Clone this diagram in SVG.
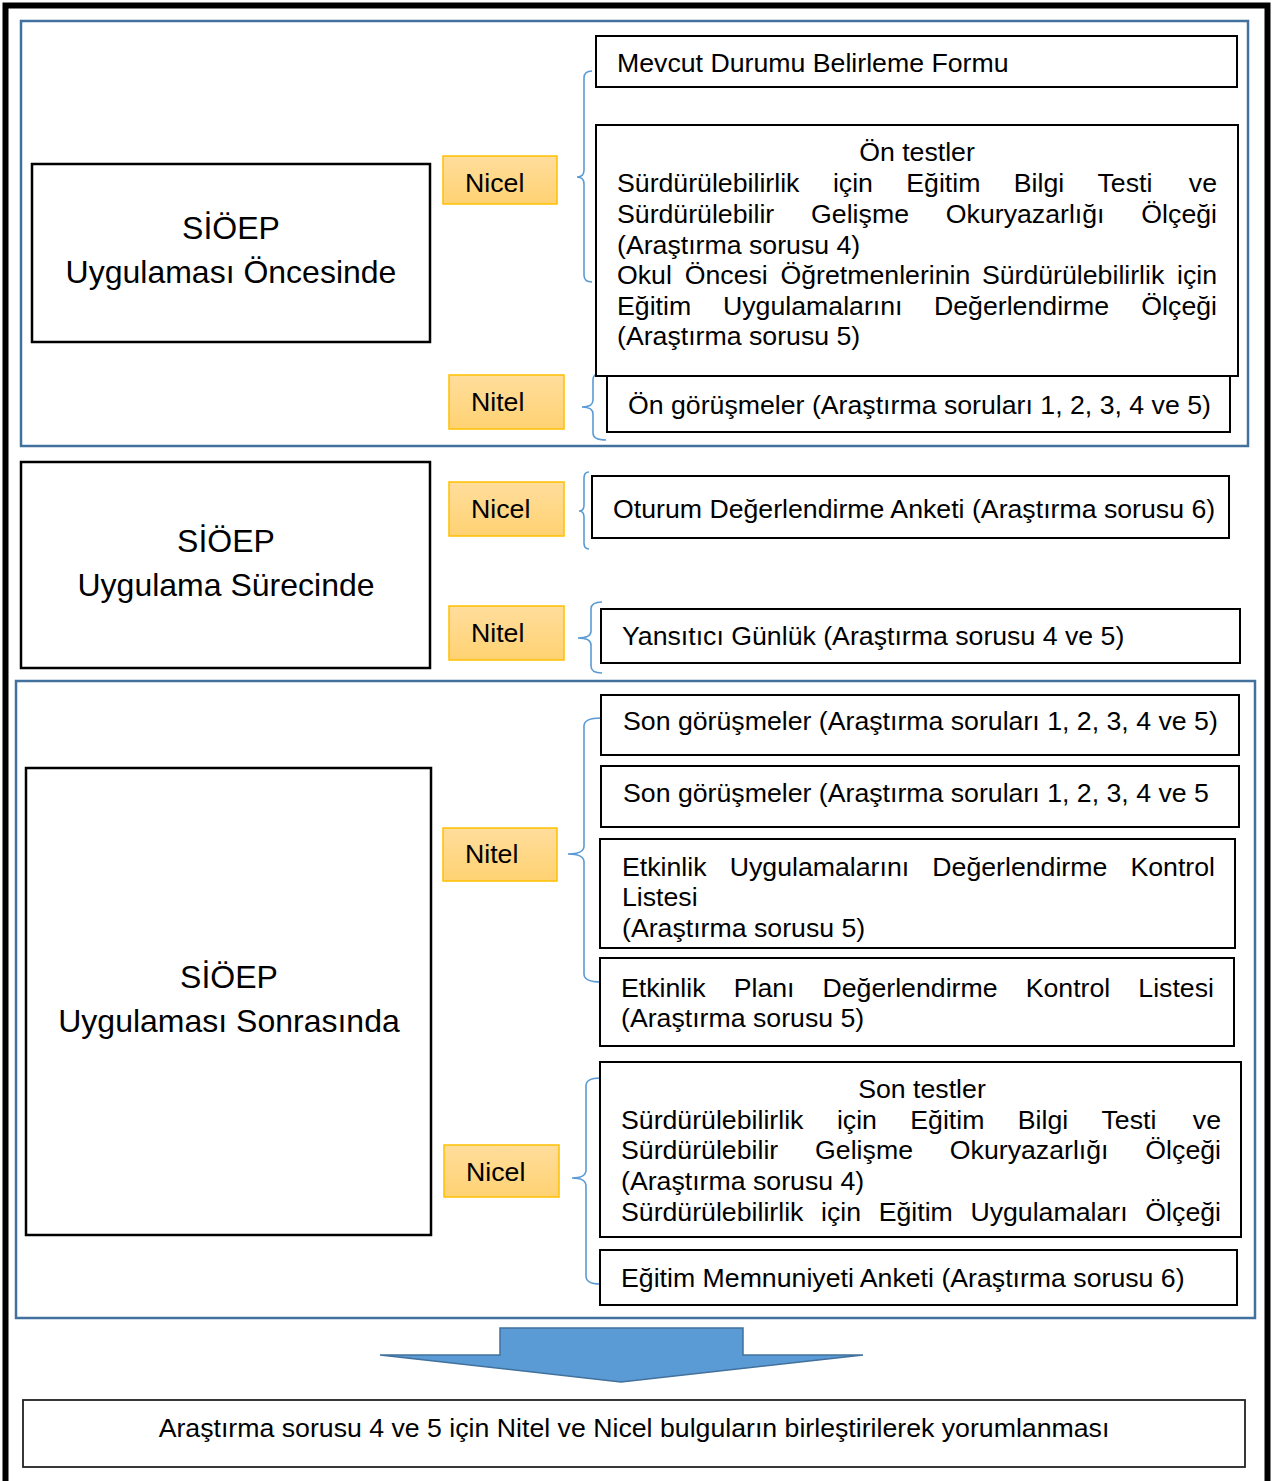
<svg xmlns="http://www.w3.org/2000/svg" width="1278" height="1481" viewBox="0 0 1278 1481">
<style>
.t{font-family:"Liberation Sans",Arial,sans-serif;font-size:26.7px;fill:#000}
.big{font-family:"Liberation Sans",Arial,sans-serif;font-size:32px;fill:#000;text-anchor:middle}
.panel{fill:none;stroke:#41719C;stroke-width:2.5}
.lbox{fill:#fff;stroke:#000;stroke-width:2.5}
.rbox{fill:#fff;stroke:#000;stroke-width:2}
.tag{fill:url(#og);stroke:#FFC000;stroke-width:1.5}
.br{fill:none;stroke:#5B9BD5;stroke-width:1.6}
.e{text-anchor:end}
.m{text-anchor:middle}
</style>
<defs>
<linearGradient id="og" x1="0" y1="0" x2="0" y2="1">
<stop offset="0" stop-color="#FFDD9C"/>
<stop offset="1" stop-color="#FFD272"/>
</linearGradient>
</defs>
<rect x="0" y="0" width="1278" height="1481" fill="#fff"/>
<rect x="5.5" y="5.5" width="1262" height="1500" fill="none" stroke="#000" stroke-width="6"/>

<g id="panel-oncesi"><rect class="panel" x="21" y="21" width="1227" height="425"/></g>
<g id="panel-sonrasi"><rect class="panel" x="16" y="681" width="1239" height="637"/></g>

<g id="connectors">
<path class="br" d="M592,71 Q584,71 584,78 L584,170 Q584,177 577,177 Q584,177 584,184 L584,275 Q584,282 592,282"/>
<path class="br" d="M606,372 Q593,372 593,380 L593,400 Q593,407 582,407 Q593,407 593,414 L593,433 Q593,440 606,440"/>
<path class="br" d="M589,472 Q584,472 584,478 L584,505 Q584,511 579,511 Q584,511 584,517 L584,543 Q584,549 589,549"/>
<path class="br" d="M602,602 Q591,602 591,609 L591,631 Q591,638 578,638 Q591,638 591,645 L591,666 Q591,673 602,673"/>
<path class="br" d="M601,718 Q584,718 584,726 L584,846 Q584,854 568,854 Q584,854 584,862 L584,974 Q584,982 601,982"/>
<path class="br" d="M600,1078 Q586,1078 586,1086 L586,1170 Q586,1178 572,1178 Q586,1178 586,1186 L586,1276 Q586,1284 600,1284"/>
</g>

<g id="node-oncesi"><rect class="lbox" x="32" y="164" width="398" height="178"/>
<text class="big" x="231" y="239">SİÖEP</text><text class="big" x="231" y="283">Uygulaması Öncesinde</text></g>
<g id="node-surecinde"><rect class="lbox" x="21" y="462" width="409" height="206"/>
<text class="big" x="226" y="552">SİÖEP</text><text class="big" x="226" y="596">Uygulama Sürecinde</text></g>
<g id="node-sonrasi"><rect class="lbox" x="26" y="768" width="405" height="467"/>
<text class="big" x="229" y="988">SİÖEP</text><text class="big" x="229" y="1032">Uygulaması Sonrasında</text></g>

<g id="tag-nicel-1"><rect class="tag" x="443" y="156" width="114" height="48"/><text class="t" x="465" y="192">Nicel</text></g>
<g id="tag-nitel-1"><rect class="tag" x="449" y="375" width="115" height="54"/><text class="t" x="471" y="411">Nitel</text></g>
<g id="tag-nicel-2"><rect class="tag" x="449" y="482" width="115" height="54"/><text class="t" x="471" y="518">Nicel</text></g>
<g id="tag-nitel-2"><rect class="tag" x="449" y="606" width="115" height="54"/><text class="t" x="471" y="642">Nitel</text></g>
<g id="tag-nitel-3"><rect class="tag" x="443" y="828" width="114" height="53"/><text class="t" x="465" y="863">Nitel</text></g>
<g id="tag-nicel-3"><rect class="tag" x="444" y="1145" width="115" height="52"/><text class="t" x="466" y="1181">Nicel</text></g>

<g id="node-mevcut"><rect class="rbox" x="596" y="36" width="641" height="51"/><text class="t" x="617" y="72">Mevcut Durumu Belirleme Formu</text></g>

<g id="node-on-testler"><rect class="rbox" x="596" y="125" width="642" height="251"/>
<text class="t m" x="917" y="161">Ön testler</text>
<text class="t" y="192"><tspan x="617">Sürdürülebilirlik</tspan><tspan x="832.9">için</tspan><tspan x="906.3">Eğitim</tspan><tspan x="1013.8">Bilgi</tspan><tspan x="1097.5">Testi</tspan></text><text class="t e" x="1217" y="192">ve</text>
<text class="t" y="223"><tspan x="617">Sürdürülebilir</tspan><tspan x="811.1">Gelişme</tspan><tspan x="945.8">Okuryazarlığı</tspan></text><text class="t e" x="1217" y="223">Ölçeği</text>
<text class="t" x="617" y="254">(Araştırma sorusu 4)</text>
<text class="t" y="284"><tspan x="617">Okul</tspan><tspan x="684.7">Öncesi</tspan><tspan x="780.5">Öğretmenlerinin</tspan><tspan x="981.9">Sürdürülebilirlik</tspan></text><text class="t e" x="1217" y="284">için</text>
<text class="t" y="315"><tspan x="617">Eğitim</tspan><tspan x="723">Uygulamalarını</tspan><tspan x="934">Değerlendirme</tspan></text><text class="t e" x="1217" y="315">Ölçeği</text>
<text class="t" x="617" y="345">(Araştırma sorusu 5)</text>
</g>

<g id="node-on-gorusmeler"><rect class="rbox" x="607" y="376" width="623" height="56"/><text class="t" x="628" y="414">Ön görüşmeler (Araştırma soruları 1, 2, 3, 4 ve 5)</text></g>
<g id="node-oturum"><rect class="rbox" x="592" y="476" width="637" height="62"/><text class="t" x="613" y="518">Oturum Değerlendirme Anketi (Araştırma sorusu 6)</text></g>
<g id="node-yansitici"><rect class="rbox" x="601" y="609" width="639" height="54"/><text class="t" x="622" y="645">Yansıtıcı Günlük (Araştırma sorusu 4 ve 5)</text></g>
<g id="node-son-gorusmeler-1"><rect class="rbox" x="601" y="695" width="638" height="60"/><text class="t" x="623" y="730">Son görüşmeler (Araştırma soruları 1, 2, 3, 4 ve 5)</text></g>
<g id="node-son-gorusmeler-2"><rect class="rbox" x="601" y="766" width="638" height="61"/><text class="t" x="623" y="802">Son görüşmeler (Araştırma soruları 1, 2, 3, 4 ve 5</text></g>

<g id="node-etkinlik-uyg"><rect class="rbox" x="600" y="839" width="635" height="109"/>
<text class="t" y="876"><tspan x="622">Etkinlik</tspan><tspan x="729.7">Uygulamalarını</tspan><tspan x="932.3">Değerlendirme</tspan></text><text class="t e" x="1215" y="876">Kontrol</text>
<text class="t" x="622" y="906">Listesi</text>
<text class="t" x="622" y="937">(Araştırma sorusu 5)</text>
</g>

<g id="node-etkinlik-plani"><rect class="rbox" x="600" y="958" width="634" height="88"/>
<text class="t" y="997"><tspan x="621">Etkinlik</tspan><tspan x="733.7">Planı</tspan><tspan x="822.5">Değerlendirme</tspan><tspan x="1025.7">Kontrol</tspan></text><text class="t e" x="1214" y="997">Listesi</text>
<text class="t" x="621" y="1027">(Araştırma sorusu 5)</text>
</g>

<g id="node-son-testler"><rect class="rbox" x="600" y="1062" width="641" height="175"/>
<text class="t m" x="922" y="1098">Son testler</text>
<text class="t" y="1129"><tspan x="621">Sürdürülebilirlik</tspan><tspan x="836.9">için</tspan><tspan x="910.3">Eğitim</tspan><tspan x="1017.8">Bilgi</tspan><tspan x="1101.5">Testi</tspan></text><text class="t e" x="1221" y="1129">ve</text>
<text class="t" y="1159"><tspan x="621">Sürdürülebilir</tspan><tspan x="815.1">Gelişme</tspan><tspan x="949.8">Okuryazarlığı</tspan></text><text class="t e" x="1221" y="1159">Ölçeği</text>
<text class="t" x="621" y="1190">(Araştırma sorusu 4)</text>
<text class="t" y="1221"><tspan x="621">Sürdürülebilirlik</tspan><tspan x="821.1">için</tspan><tspan x="878.7">Eğitim</tspan><tspan x="970.4">Uygulamaları</tspan></text><text class="t e" x="1221" y="1221">Ölçeği</text>
</g>

<g id="node-memnuniyet"><rect class="rbox" x="600" y="1250" width="637" height="55"/><text class="t" x="621" y="1287">Eğitim Memnuniyeti Anketi (Araştırma sorusu 6)</text></g>

<g id="arrow"><path d="M500,1328 L743,1328 L743,1355 L863,1355 L621,1382 L380,1355 L500,1355 Z" fill="#5B9BD5" stroke="#41719C" stroke-width="1.5"/></g>

<g id="node-sonuc"><rect x="23" y="1400" width="1222" height="67" fill="#fff" stroke="#222" stroke-width="1.8"/><text class="t m" x="634" y="1437">Araştırma sorusu 4 ve 5 için Nitel ve Nicel bulguların birleştirilerek yorumlanması</text></g>
</svg>
